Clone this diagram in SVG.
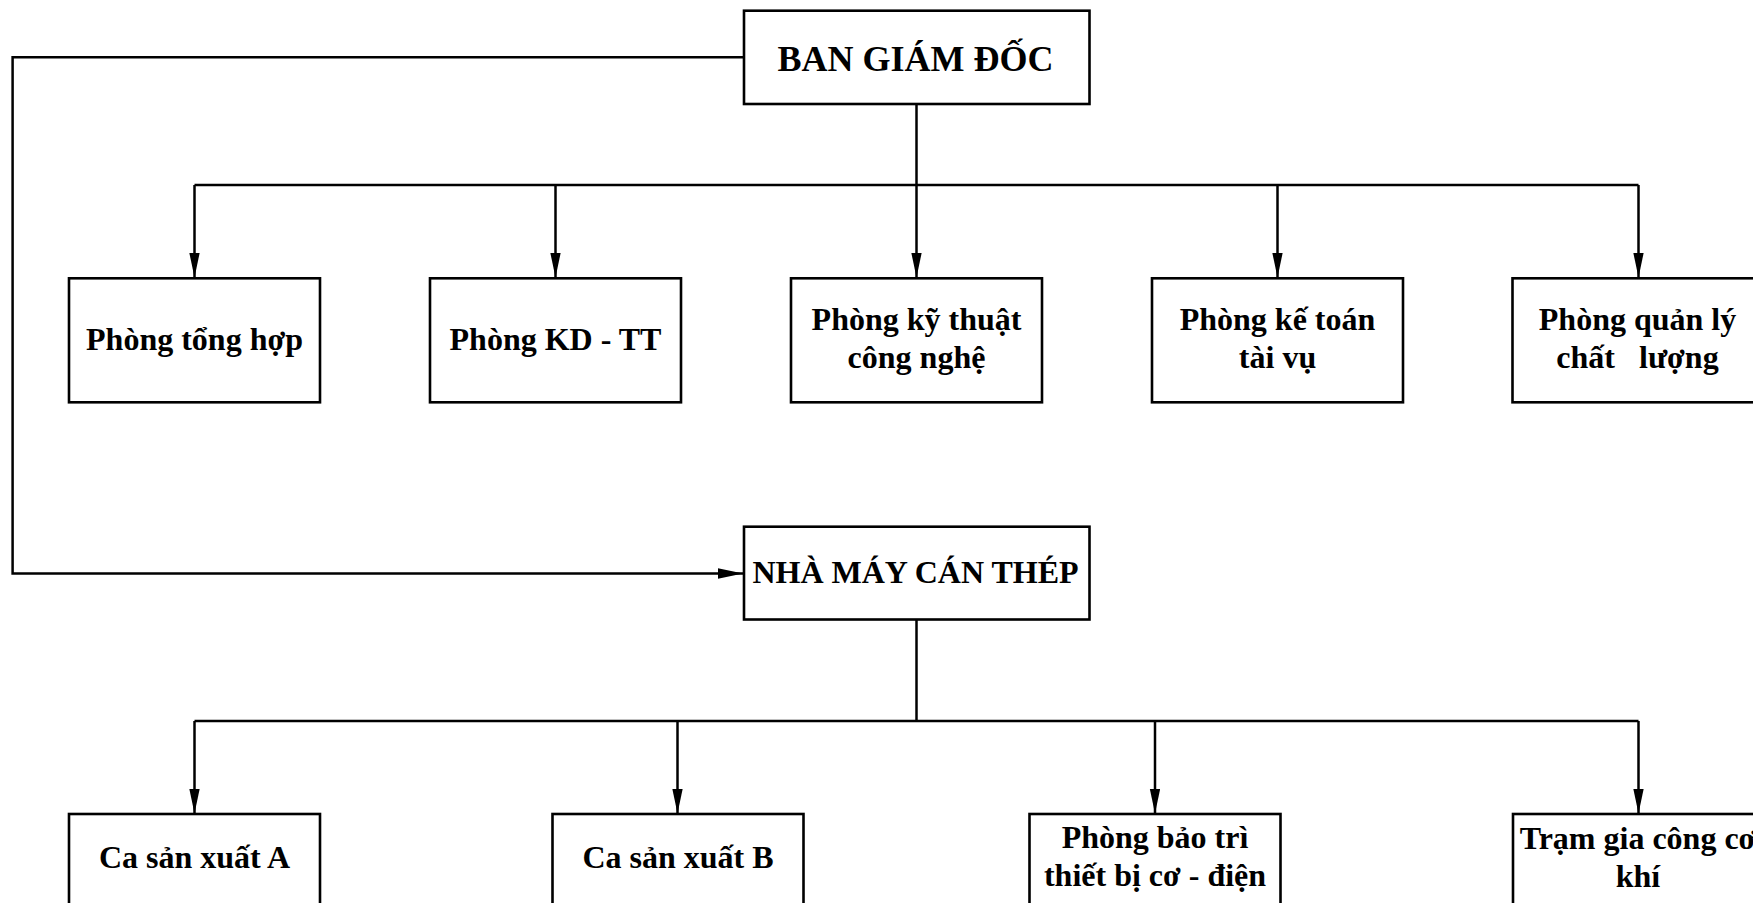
<svg xmlns="http://www.w3.org/2000/svg" width="1753" height="903" viewBox="0 0 1753 903">
  <style>
    .box { fill: #ffffff; stroke: #000000; stroke-width: 2.6; }
    .wire { fill: none; stroke: #000000; stroke-width: 2.5; }
    .arrow { marker-end: url(#head); }
    text { font-family: "Liberation Serif", "Times New Roman", serif; font-weight: bold; fill: #000000; text-anchor: middle; }
    .t32 { font-size: 32px; }
    .t36 { font-size: 36px; }
  </style>
  <defs>
    <marker id="head" markerUnits="userSpaceOnUse" markerWidth="26" markerHeight="11" refX="25" refY="5.25" orient="auto">
      <path d="M0,0 L25,5.25 L0,10.5 Z" fill="#000000"/>
    </marker>
  </defs>
  <rect width="1753" height="903" fill="#ffffff"/>

  <!-- connectors -->
  <g id="connectors">
    <path class="wire arrow" d="M744,57.3 H12.6 V573.5 H743"/>
    <path class="wire" d="M916.5,104 V185"/>
    <path class="wire" d="M194.5,185 H1638.5"/>
    <path class="wire arrow" d="M194.5,185 V277.5"/>
    <path class="wire arrow" d="M555.5,185 V277.5"/>
    <path class="wire arrow" d="M916.5,185 V277.5"/>
    <path class="wire arrow" d="M1277.5,185 V277.5"/>
    <path class="wire arrow" d="M1638.5,185 V277.5"/>
    <path class="wire" d="M916.5,619.5 V721"/>
    <path class="wire" d="M194.5,721 H1638.5"/>
    <path class="wire arrow" d="M194.5,721 V813.5"/>
    <path class="wire arrow" d="M677.5,721 V813.5"/>
    <path class="wire arrow" d="M1155,721 V813.5"/>
    <path class="wire arrow" d="M1638.5,721 V813.5"/>
  </g>

  <!-- top level -->
  <g id="ban-giam-doc">
    <rect class="box" x="744" y="10.7" width="345.5" height="93.3"/>
    <text class="t36" x="915.5" y="70.5">BAN GIÁM ĐỐC</text>
  </g>

  <!-- departments -->
  <g id="phong-tong-hop">
    <rect class="box" x="69" y="278.3" width="251" height="124"/>
    <text class="t32" x="194.5" y="350">Phòng tổng hợp</text>
  </g>
  <g id="phong-kd-tt">
    <rect class="box" x="430" y="278.3" width="251" height="124"/>
    <text class="t32" x="555.5" y="350">Phòng KD - TT</text>
  </g>
  <g id="phong-ky-thuat">
    <rect class="box" x="791" y="278.3" width="251" height="124"/>
    <text class="t32" x="916.5" y="330">Phòng kỹ thuật</text>
    <text class="t32" x="916.5" y="368.3">công nghệ</text>
  </g>
  <g id="phong-ke-toan">
    <rect class="box" x="1152" y="278.3" width="251" height="124"/>
    <text class="t32" x="1277.5" y="330">Phòng kế toán</text>
    <text class="t32" x="1277.5" y="368.3">tài vụ</text>
  </g>
  <g id="phong-quan-ly">
    <rect class="box" x="1512.5" y="278.3" width="251" height="124"/>
    <text class="t32" x="1637.5" y="330">Phòng quản lý</text>
    <text class="t32" x="1637.5" y="368.3" xml:space="preserve" style="white-space:pre">chất   lượng</text>
  </g>

  <!-- plant -->
  <g id="nha-may">
    <rect class="box" x="744" y="526.7" width="345.5" height="92.8"/>
    <text class="t32" x="915.5" y="582.7">NHÀ MÁY CÁN THÉP</text>
  </g>

  <!-- plant units -->
  <g id="ca-a">
    <rect class="box" x="69" y="814" width="251" height="124"/>
    <text class="t32" x="194.5" y="868">Ca sản xuất A</text>
  </g>
  <g id="ca-b">
    <rect class="box" x="552.5" y="814" width="251" height="124"/>
    <text class="t32" x="678" y="868">Ca sản xuất B</text>
  </g>
  <g id="bao-tri">
    <rect class="box" x="1029.5" y="814" width="251" height="124"/>
    <text class="t32" x="1155" y="847.5">Phòng bảo trì</text>
    <text class="t32" x="1155" y="885.5">thiết bị cơ - điện</text>
  </g>
  <g id="tram-co-khi">
    <rect class="box" x="1513" y="814" width="251" height="124"/>
    <text class="t32" x="1638" y="849">Trạm gia công cơ</text>
    <text class="t32" x="1638" y="886.5">khí</text>
  </g>
</svg>
